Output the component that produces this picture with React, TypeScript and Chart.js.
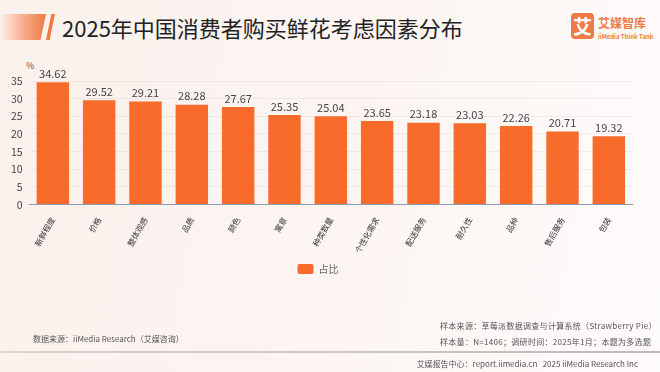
import React, { useEffect, useRef } from "react";
import { Chart, registerables } from "chart.js";

Chart.register(...registerables);

const categories = ["新鲜程度", "价格", "整体观感", "品质", "颜色", "寓意", "种类数量", "个性化需求", "配送服务", "耐久性", "品种", "售后服务", "包装"];
const shares = [34.62, 29.52, 29.21, 28.28, 27.67, 25.35, 25.04, 23.65, 23.18, 23.03, 22.26, 20.71, 19.32];
const seriesName = "占比";
const yMax = 35;
const yStep = 5;

const FONT = "'Noto Sans CJK SC', 'Noto Sans', sans-serif";

const valueLabels = {
  id: "valueLabels",
  afterDatasetsDraw(chart: any) {
    const ctx = chart.ctx;
    const meta = chart.getDatasetMeta(0);
    ctx.save();
    ctx.font = `11px ${FONT}`;
    ctx.fillStyle = "#444";
    ctx.textAlign = "center";
    ctx.textBaseline = "bottom";
    meta.data.forEach((bar: any, i: number) => {
      ctx.fillText(shares[i].toFixed(2), bar.x, bar.y - 3);
    });
    ctx.restore();
  },
};

export default function App() {
  const ref = useRef<HTMLCanvasElement | null>(null);
  useEffect(() => {
    if (!ref.current) return;
    const chart = new Chart(ref.current, {
      type: "bar",
      data: {
        labels: categories,
        datasets: [
          {
            label: seriesName,
            data: shares,
            backgroundColor: "#f96b2b",
            borderWidth: 0,
            categoryPercentage: 0.7,
            barPercentage: 1,
          },
        ],
      },
      options: {
        animation: false,
        responsive: false,
        maintainAspectRatio: false,
        layout: { padding: { left: 4, right: 28, top: 81, bottom: 88 } },
        plugins: {
          legend: {
            position: "bottom",
            labels: {
              font: { family: FONT, size: 10 },
              color: "#666",
              boxWidth: 16,
              boxHeight: 10,
              padding: 6,
              useBorderRadius: true,
              borderRadius: 2,
            },
          },
          tooltip: { enabled: false },
        },
        scales: {
          x: {
            grid: { display: false },
            border: { color: "#8e9bb3", width: 1 },
            ticks: {
              font: { family: FONT, size: 8 },
              color: "#333",
              maxRotation: 60,
              minRotation: 60,
              padding: 3,
              autoSkip: false,
            },
          },
          y: {
            min: 0,
            max: yMax,
            ticks: {
              stepSize: yStep,
              font: { family: FONT, size: 10.5 },
              color: "#444",
              padding: 7,
            },
            grid: { color: "rgba(0,0,0,0.05)", drawTicks: false },
            border: { display: false },
          },
        },
      },
      plugins: [valueLabels],
    });
    return () => chart.destroy();
  }, []);

  const txt: React.CSSProperties = { position: "absolute", fontFamily: FONT, color: "#555", fontSize: 8, whiteSpace: "nowrap" };

  return (
    <div
      style={{
        position: "fixed",
        left: 0,
        top: 0,
        width: 660,
        height: 372,
        overflow: "hidden",
        background: "linear-gradient(100deg, #fbf1ed 0%, #fcf5f2 55%, #fefcfb 100%)",
      }}
    >
      <div
        style={{
          position: "absolute",
          left: 0,
          top: 14,
          width: 46,
          height: 26,
          background: "linear-gradient(90deg, rgba(244,130,80,0) 0%, rgba(244,130,80,0.6) 50%, #ef7a45 100%)",
          clipPath: "polygon(0 0, 100% 0, 88% 100%, 0 100%)",
        }}
      />
      <div
        style={{
          position: "absolute",
          left: 46,
          top: 14,
          width: 9,
          height: 26,
          background: "#ef7a45",
          clipPath: "polygon(60% 0, 100% 0, 40% 100%, 0 100%)",
        }}
      />
      <div style={{ position: "absolute", left: 62, top: 13, fontFamily: FONT, fontSize: 22, fontWeight: 400, color: "#222", lineHeight: "28px", whiteSpace: "nowrap" }}>
        2025年中国消费者购买鲜花考虑因素分布
      </div>
      <div
        style={{
          position: "absolute",
          left: 571,
          top: 13,
          width: 23,
          height: 26,
          borderRadius: 4,
          background: "#ef7a45",
          color: "#fff",
          fontFamily: FONT,
          fontWeight: 700,
          fontSize: 19,
          lineHeight: "26px",
          textAlign: "center",
        }}
      >
        艾
      </div>
      <div style={{ position: "absolute", left: 598, top: 15, fontFamily: FONT, fontWeight: 700, fontSize: 12, color: "#ef7a45", lineHeight: "16px", whiteSpace: "nowrap" }}>
        艾媒智库
      </div>
      <div style={{ position: "absolute", left: 598, top: 33, fontFamily: FONT, fontSize: 6, fontWeight: 700, color: "#ef7a45", lineHeight: "7px", whiteSpace: "nowrap" }}>
        iiMedia Think Tank
      </div>
      <div style={{ ...txt, left: 26, top: 59, fontSize: 9, color: "#555" }}>%</div>
      <canvas ref={ref} width={660} height={372} style={{ position: "absolute", left: 0, top: 0, width: 660, height: 372 }} />
      <div style={{ ...txt, left: 33, top: 333 }}>数据来源：iiMedia Research（艾媒咨询）</div>
      <div style={{ ...txt, left: 440, top: 320, letterSpacing: 0.3 }}>样本来源：草莓派数据调查与计算系统（Strawberry Pie）</div>
      <div style={{ ...txt, left: 440, top: 336, letterSpacing: 0.3 }}>样本量：N=1406；调研时间：2025年1月；本题为多选题</div>
      <div style={{ position: "absolute", left: 0, top: 351, width: 660, height: 2, background: "linear-gradient(90deg, #d8d4d2, #bdbab8)" }} />
      <div style={{ ...txt, right: 22, top: 358 }}>艾媒报告中心：report.iimedia.cn&nbsp;&nbsp;&nbsp;2025 iiMedia Research Inc</div>
    </div>
  );
}
